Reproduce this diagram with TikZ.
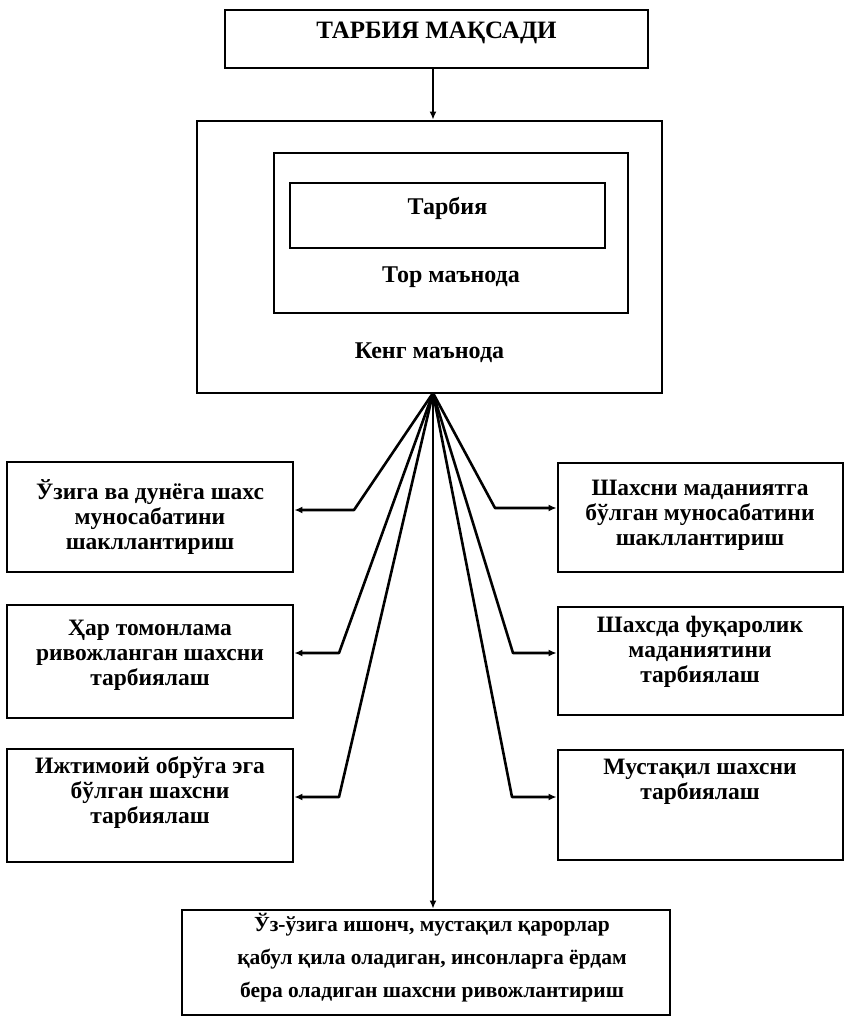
\documentclass[tikz,border=0pt]{standalone}
\usepackage{fontspec}
\setmainfont{Liberation Serif}
\usetikzlibrary{arrows.meta}
\begin{document}
\begin{tikzpicture}[x=1pt,y=-1pt,
  box/.style={draw,line width=2.8pt,rectangle,inner sep=0pt},
  txt/.style={align=center,inner sep=0pt,font=\fontsize{23.5}{25}\selectfont\bfseries},
  conn/.style={line width=2.6pt,line join=round,-{Latex[length=8pt,width=7pt]}}]
\useasboundingbox (0,0) rectangle (848,1023);
% top box
\node[box,minimum width=423pt,minimum height=58pt] (goal) at (436.5,39) {};
\node[txt,font=\fontsize{25}{27}\selectfont\bfseries] (goalt) at (436.5,33) {ТАРБИЯ МАҚСАДИ};
% nested boxes
\node[box,minimum width=465pt,minimum height=272pt] (wide) at (429.5,257) {};
\node[box,minimum width=354pt,minimum height=160pt] (narrow) at (451,233) {};
\node[box,minimum width=315pt,minimum height=65pt] (core) at (447.5,215.5) {};
\node[txt,font=\fontsize{24}{26}\selectfont\bfseries] (coret) at (447.5,208) {Тарбия};
\node[txt,font=\fontsize{24}{26}\selectfont\bfseries] (narrowt) at (451,277) {Тор маънода};
\node[txt,font=\fontsize{24}{26}\selectfont\bfseries] (widet) at (429.5,353) {Кенг маънода};
\coordinate (apex) at (433,393);
\draw[conn] (goal.south -| apex) -- (wide.north -| apex);
% left boxes
\node[box,minimum width=286pt,minimum height=110pt] (L1) at (150,517) {};
\node[txt] (L1t) at (150,517) {Ўзига ва дунёга шахс\\муносабатини\\шакллантириш};
\node[box,minimum width=286pt,minimum height=113pt] (L2) at (150,661.5) {};
\node[txt] (L2t) at (150,655) {Ҳар томонлама\\ривожланган шахсни\\тарбиялаш};
\node[box,minimum width=286pt,minimum height=113pt] (L3) at (150,805.5) {};
\node[txt] (L3t) at (150,793) {Ижтимоий обрўга эга\\бўлган шахсни\\тарбиялаш};
% right boxes
\node[box,minimum width=285pt,minimum height=109pt] (R1) at (700.5,517.5) {};
\node[txt] (R1t) at (700,515) {Шахсни маданиятга\\бўлган муносабатини\\шакллантириш};
\node[box,minimum width=285pt,minimum height=108pt] (R2) at (700.5,661) {};
\node[txt] (R2t) at (700,652) {Шахсда фуқаролик\\маданиятини\\тарбиялаш};
\node[box,minimum width=285pt,minimum height=110pt] (R3) at (700.5,805) {};
\node[txt] (R3t) at (700,782) {Мустақил шахсни\\тарбиялаш};
% bottom box
\node[box,minimum width=488pt,minimum height=105pt] (B) at (426,962.5) {};
\node[txt,font=\fontsize{21.5}{33}\selectfont\bfseries] (Bt) at (432,958) {Ўз-ўзига ишонч, мустақил қарорлар\\қабул қила оладиган, инсонларга ёрдам\\бера оладиган шахсни ривожлантириш};
% connectors
\coordinate (bl1) at (354,510);
\coordinate (bl2) at (339,653);
\coordinate (bl3) at (339,797);
\coordinate (br1) at (495,508);
\coordinate (br2) at (513,653);
\coordinate (br3) at (512,797);
\draw[conn] (apex) -- (bl1) -- (L1.east |- bl1);
\draw[conn] (apex) -- (bl2) -- (L2.east |- bl2);
\draw[conn] (apex) -- (bl3) -- (L3.east |- bl3);
\draw[conn] (apex) -- (br1) -- (R1.west |- br1);
\draw[conn] (apex) -- (br2) -- (R2.west |- br2);
\draw[conn] (apex) -- (br3) -- (R3.west |- br3);
\draw[conn] (apex) -- (B.north -| apex);
\end{tikzpicture}
\end{document}
